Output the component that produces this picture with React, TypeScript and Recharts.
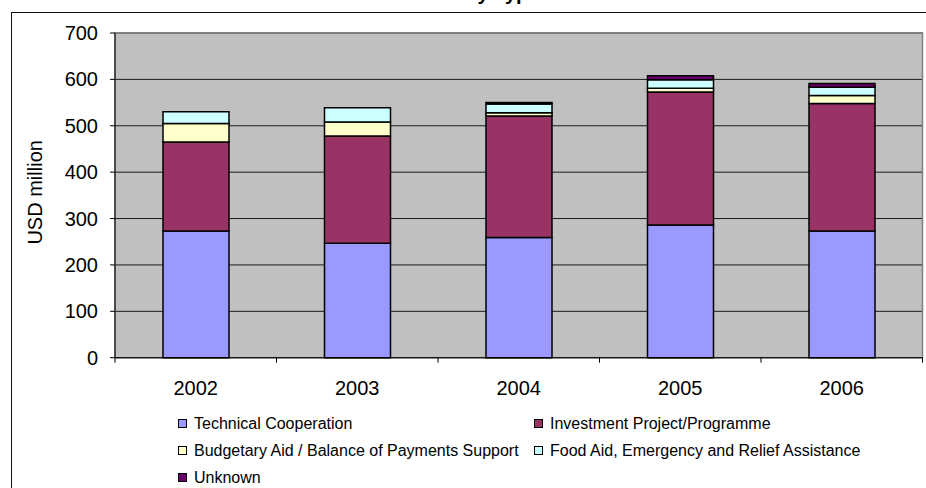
import React from 'react';
import { BarChart, Bar, XAxis, YAxis, CartesianGrid, ReferenceArea, Label } from 'recharts';

const years = ['2002', '2003', '2004', '2005', '2006'];
const technicalCooperation = [273, 247, 259, 286, 273];
const investmentProject = [192, 231, 262, 287, 275];
const budgetaryAid = [40, 30, 7, 8, 17];
const foodAid = [25, 31, 19, 18, 18];
const unknownType = [0, 0, 3, 9, 8];
const yTicks = [0, 100, 200, 300, 400, 500, 600, 700];

const series = [
  { key: 'tc', name: 'Technical Cooperation', color: '#9999FF', values: technicalCooperation },
  { key: 'ip', name: 'Investment Project/Programme', color: '#993366', values: investmentProject },
  { key: 'ba', name: 'Budgetary Aid / Balance of Payments Support', color: '#FFFFCC', values: budgetaryAid },
  { key: 'fa', name: 'Food Aid, Emergency and Relief Assistance', color: '#CCFFFF', values: foodAid },
  { key: 'un', name: 'Unknown', color: '#660066', values: unknownType },
];

const data = years.map((year, i) => {
  const row: Record<string, any> = { year };
  series.forEach((s) => { row[s.key] = s.values[i]; });
  return row;
});

const FONT = "'Liberation Sans', Arial, Helvetica, sans-serif";
const W = 926;
const H = 488;
const PLOT_LEFT = 115;
const PLOT_RIGHT = 922.5;
const PLOT_TOP = 33;
const PLOT_BOTTOM = 357.7;
const Y_AXIS_W = 60;
const X_AXIS_H = 30;
const BAND = (PLOT_RIGHT - PLOT_LEFT) / years.length;

function XTick(props: any) {
  const { x, y, payload, index } = props;
  const half = BAND / 2;
  return (
    <g>
      <line x1={x - half} y1={y} x2={x - half} y2={y + 5} stroke="#000" strokeWidth={1} />
      {index === years.length - 1 && (
        <line x1={x + half} y1={y} x2={x + half} y2={y + 5} stroke="#000" strokeWidth={1} />
      )}
      <text x={x} y={y + 37} textAnchor="middle" fontSize={20} fill="#000" fontFamily={FONT}>
        {payload.value}
      </text>
    </g>
  );
}

function YLabel(props: any) {
  const vb = props.viewBox || { y: PLOT_TOP, height: PLOT_BOTTOM - PLOT_TOP };
  const cy = vb.y + vb.height / 2 - 3;
  const cx = 35;
  return (
    <text
      x={cx}
      y={cy}
      transform={`rotate(-90 ${cx} ${cy})`}
      textAnchor="middle"
      dominantBaseline="central"
      fontSize={20}
      fill="#000"
      fontFamily={FONT}
    >
      USD million
    </text>
  );
}

export default function App() {
  return (
    <div
      style={{
        position: 'fixed',
        left: 0,
        top: 0,
        width: W,
        height: H,
        overflow: 'hidden',
        background: '#fff',
        fontFamily: FONT,
      }}
    >
      <div
        style={{
          position: 'absolute',
          left: 416,
          top: -18,
          fontSize: 20,
          fontWeight: 'bold',
          lineHeight: '23px',
          whiteSpace: 'nowrap',
          color: '#000',
        }}
      >
        ODA by Type
      </div>
      <div
        style={{
          position: 'absolute',
          left: 11,
          top: 12,
          width: 1000,
          height: 1000,
          borderLeft: '1.5px solid #111',
          borderTop: '1.5px solid #111',
        }}
      />
      <div style={{ position: 'absolute', left: 0, top: 0 }}>
        <BarChart
          width={W}
          height={H}
          data={data}
          margin={{
            top: PLOT_TOP,
            right: W - PLOT_RIGHT,
            bottom: H - PLOT_BOTTOM - X_AXIS_H,
            left: PLOT_LEFT - Y_AXIS_W,
          }}
        >
          <CartesianGrid vertical={false} stroke="#1a1a1a" fill="#C0C0C0" fillOpacity={1} />
          <ReferenceArea y1={0} y2={700} fill="none" stroke="#808080" strokeWidth={1.5} ifOverflow="visible" />
          <XAxis
            dataKey="year"
            height={X_AXIS_H}
            axisLine={{ stroke: '#000', strokeWidth: 1 }}
            tickLine={false}
            tickSize={0}
            tickMargin={0}
            tick={<XTick />}
            interval={0}
          />
          <YAxis
            width={Y_AXIS_W}
            domain={[0, 700]}
            ticks={yTicks}
            interval={0}
            axisLine={{ stroke: '#000', strokeWidth: 1 }}
            tickLine={{ stroke: '#000', strokeWidth: 1 }}
            tickSize={5}
            tickMargin={12}
            tick={{ fontSize: 20, fill: '#000', fontFamily: FONT }}
          >
            <Label content={<YLabel />} />
          </YAxis>
          {series.map((s) => (
            <Bar
              key={s.key}
              dataKey={s.key}
              name={s.name}
              stackId="a"
              fill={s.color}
              stroke="#000"
              strokeWidth={1.5}
              barSize={66}
              isAnimationActive={false}
            />
          ))}
        </BarChart>
      </div>
      <div
        style={{
          position: 'absolute',
          left: 178,
          top: 410,
          display: 'grid',
          gridTemplateColumns: '356px auto',
          gridAutoRows: '27px',
          fontSize: 16,
          color: '#000',
        }}
      >
        {series.map((s) => (
          <div key={s.key} style={{ display: 'flex', alignItems: 'center', whiteSpace: 'nowrap' }}>
            <span
              style={{
                display: 'block',
                width: 9,
                height: 9,
                minWidth: 9,
                boxSizing: 'border-box',
                border: '1.5px solid #000',
                background: s.color,
                marginRight: 7,
                flex: '0 0 9px',
              }}
            />
            <span>{s.name}</span>
          </div>
        ))}
      </div>
    </div>
  );
}
